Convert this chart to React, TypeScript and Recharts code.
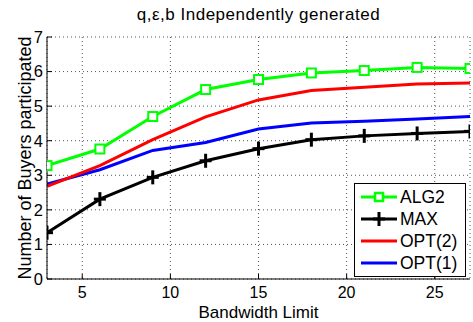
import React from 'react';
import { LineChart, Line, XAxis, YAxis, CartesianGrid, Legend } from 'recharts';

const bandwidth = [3, 6, 9, 12, 15, 18, 21, 24, 27];
const alg2 = [3.28, 3.76, 4.7, 5.48, 5.77, 5.96, 6.03, 6.12, 6.09];
const maxVals = [1.34, 2.31, 2.94, 3.42, 3.77, 4.03, 4.14, 4.21, 4.27];
const opt2 = [2.68, 3.28, 4.03, 4.69, 5.18, 5.45, 5.55, 5.64, 5.67];
const opt1 = [2.75, 3.16, 3.72, 3.95, 4.34, 4.51, 4.56, 4.63, 4.7];

const xTicks = [5, 10, 15, 20, 25];
const yTicks = [0, 1, 2, 3, 4, 5, 6, 7];

const data = bandwidth.map((b, i) => ({
  b,
  alg2: alg2[i],
  max: maxVals[i],
  opt2: opt2[i],
  opt1: opt1[i],
}));

const FONT = '"Liberation Sans", Arial, Helvetica, sans-serif';

const SquareDot = (props: any) => {
  const { cx, cy } = props;
  if (cx == null || cy == null) return null;
  return <rect x={cx - 4.5} y={cy - 4.5} width={9} height={9} fill="#fff" stroke="#00ff00" strokeWidth={2} />;
};

const PlusDot = (props: any) => {
  const { cx, cy } = props;
  if (cx == null || cy == null) return null;
  return (
    <g stroke="#000" strokeWidth={3}>
      <line x1={cx - 6} y1={cy} x2={cx + 6} y2={cy} />
      <line x1={cx} y1={cy - 7} x2={cx} y2={cy + 7} />
    </g>
  );
};

const legendItems = [
  { name: 'ALG2', color: '#00ff00', marker: 'square' },
  { name: 'MAX', color: '#000000', marker: 'plus' },
  { name: 'OPT(2)', color: '#ff0000', marker: 'none' },
  { name: 'OPT(1)', color: '#0000ff', marker: 'none' },
];

const LegendBox = () => (
  <div
    style={{
      border: '1px solid #000',
      background: '#fff',
      width: 110,
      height: 90,
      boxSizing: 'content-box',
      fontFamily: FONT,
      fontSize: 17.5,
      paddingTop: 2,
    }}
  >
    {legendItems.map((it) => (
      <div key={it.name} style={{ display: 'flex', alignItems: 'center', height: 22 }}>
        <svg width={44} height={20} style={{ display: 'block' }}>
          <line x1={6} y1={10} x2={42} y2={10} stroke={it.color} strokeWidth={3} />
          {it.marker === 'square' && (
            <rect x={20} y={6} width={8} height={8} fill="#fff" stroke={it.color} strokeWidth={2.5} />
          )}
          {it.marker === 'plus' && (
            <g stroke={it.color} strokeWidth={3}>
              <line x1={18} y1={10} x2={30} y2={10} />
              <line x1={24} y1={3} x2={24} y2={17} />
            </g>
          )}
        </svg>
        <span style={{ marginLeft: 1, lineHeight: '20px' }}>{it.name}</span>
      </div>
    ))}
  </div>
);

const App = () => {
  return (
    <div style={{ position: 'absolute', left: 0, top: 0, width: 473, height: 322, background: '#fff' }}>
      <div
        style={{
          position: 'absolute',
          left: 47,
          width: 423,
          top: 5,
          textAlign: 'center',
          fontFamily: FONT,
          fontSize: 17,
          letterSpacing: 0.5,
          color: '#000',
        }}
      >
        q,ε,b Independently generated
      </div>
      <LineChart
        width={473}
        height={322}
        data={data}
        margin={{ top: 37, right: 3, bottom: 0, left: 0 }}
        style={{ fontFamily: FONT }}
      >
        <CartesianGrid stroke="#555" strokeDasharray="1 3" strokeWidth={1} />
        <XAxis
          dataKey="b"
          type="number"
          domain={[3, 27]}
          ticks={xTicks}
          height={43}
          allowDataOverflow
          stroke="#000"
          tickSize={-5}
          tickMargin={13}
          tick={{ fill: '#000', fontSize: 16 }}
          label={{ value: 'Bandwidth Limit', position: 'insideBottom', offset: 4, fill: '#000', fontSize: 17 }}
        />
        <XAxis
          xAxisId="top"
          orientation="top"
          dataKey="b"
          type="number"
          domain={[3, 27]}
          ticks={xTicks}
          height={0}
          stroke="#000"
          tickSize={-5}
          tickFormatter={() => ''}
        />
        <YAxis
          type="number"
          domain={[0, 7]}
          ticks={yTicks}
          width={47}
          stroke="#000"
          tickSize={-5}
          tickMargin={9}
          tick={{ fill: '#000', fontSize: 16.5 }}
          label={{
            value: 'Number of Buyers participated',
            angle: -90,
            position: 'insideLeft',
            offset: 25,
            fill: '#000',
            fontSize: 18,
            style: { textAnchor: 'middle' },
          }}
        />
        <YAxis
          yAxisId="right"
          orientation="right"
          type="number"
          domain={[0, 7]}
          ticks={yTicks}
          width={0}
          stroke="#000"
          tickSize={-5}
          tickFormatter={() => ''}
        />
        <Line dataKey="opt1" stroke="#0000ff" strokeWidth={3} dot={false} isAnimationActive={false} />
        <Line dataKey="opt2" stroke="#ff0000" strokeWidth={3} dot={false} isAnimationActive={false} />
        <Line dataKey="max" stroke="#000000" strokeWidth={3} dot={<PlusDot />} isAnimationActive={false} />
        <Line dataKey="alg2" stroke="#00ff00" strokeWidth={3} dot={<SquareDot />} isAnimationActive={false} />
        <Legend
          layout="vertical"
          align="center"
          verticalAlign="middle"
          content={() => <LegendBox />}
          wrapperStyle={{ left: 354, top: 183, width: 112, height: 92 }}
        />
      </LineChart>
    </div>
  );
};

export default App;
